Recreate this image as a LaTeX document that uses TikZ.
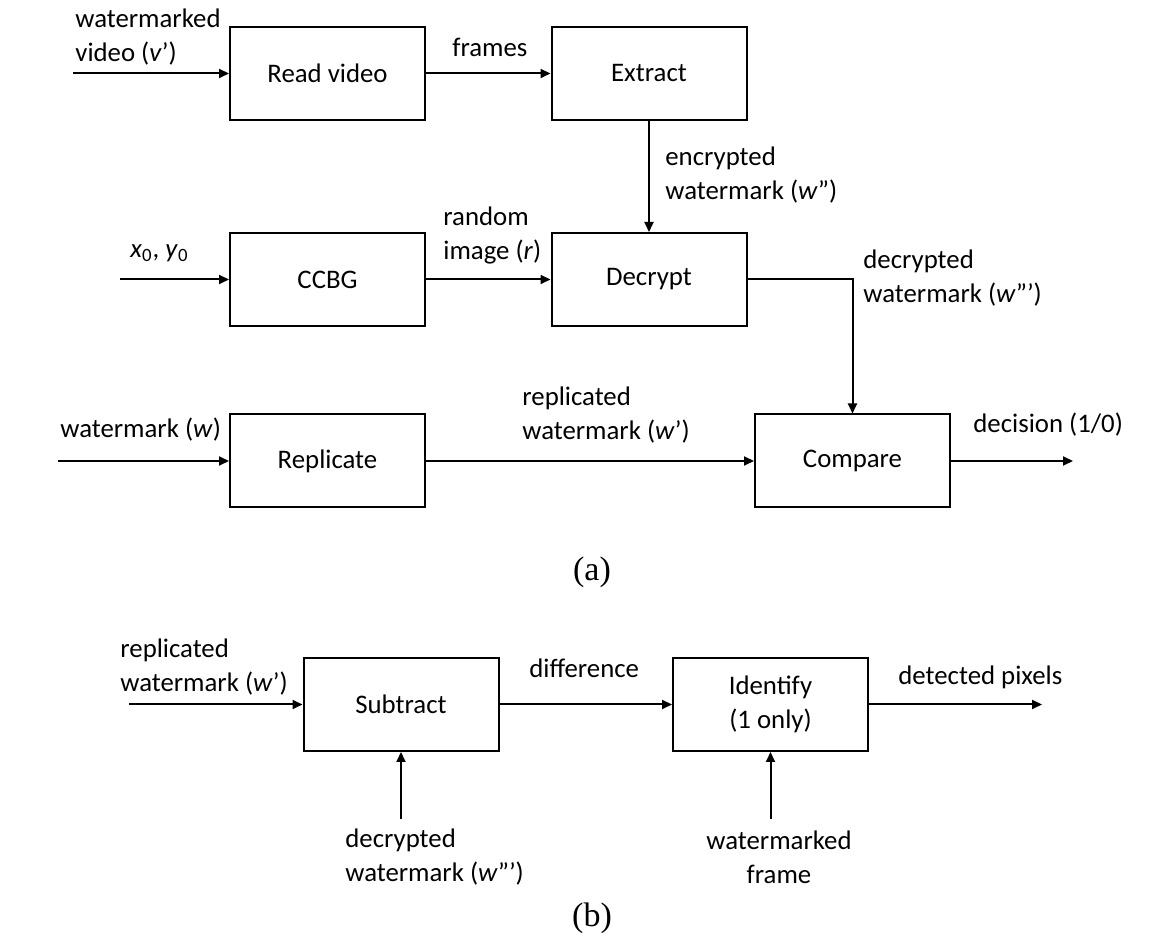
\documentclass[tikz,border=0pt]{standalone}
\usepackage{fontspec}
\setmainfont{Carlito}
\newfontfamily\capfont{Liberation Serif}
\usetikzlibrary{arrows.meta}

\begin{document}
\begin{tikzpicture}[x=0.5pt,y=-0.5pt,
    block/.style={draw, line width=1pt, minimum width=97.5pt, minimum height=46.5pt,
                  inner sep=0pt, align=center, font=\fontsize{13.4}{17}\selectfont},
    lbl/.style={inner sep=0pt, align=left, anchor=west, font=\fontsize{13.4}{17}\selectfont},
    sig/.style={line width=1pt, -{Triangle[length=5pt,width=4.5pt]}},
    captext/.style={inner sep=0pt, font=\capfont\fontsize{17}{20}\selectfont}]

\useasboundingbox (0,0) rectangle (1164,946);

%% blocks (a)
\node[block] (read)      at (327.5,73.5) {Read video};
\node[block] (extract)   at (649,73.5)   {Extract};
\node[block] (ccbg)      at (327.5,279.5) {CCBG};
\node[block] (decrypt)   at (649,279.5)  {Decrypt};
\node[block] (replicate) at (327.5,461)  {Replicate};
\node[block] (compare)   at (852.5,461)  {Compare};

%% blocks (b)
\node[block] (subtract)  at (401,704.5)  {Subtract};
\node[block] (identify)  at (770.5,704.5) {Identify\\(1 only)};

%% free ends
\coordinate (vin)  at (73,73.5);
\coordinate (xin)  at (120,279.5);
\coordinate (win)  at (58,461);
\coordinate (dout) at (1073,461);
\coordinate (wbin) at (129,704.5);
\coordinate (pout) at (1042,704.5);
\coordinate (dwin) at (401,819);
\coordinate (fin)  at (770.5,819);

%% edges (a)
\draw[sig] (vin) -- (read);
\draw[sig] (read) -- (extract);
\draw[sig] (extract) -- (decrypt);
\draw[sig] (xin) -- (ccbg);
\draw[sig] (ccbg) -- (decrypt);
\draw[sig] (decrypt.east) -| (compare.north);
\draw[sig] (win) -- (replicate);
\draw[sig] (replicate) -- (compare);
\draw[sig] (compare) -- (dout);

%% edges (b)
\draw[sig] (wbin) -- (subtract);
\draw[sig] (subtract) -- (identify);
\draw[sig] (identify) -- (pout);
\draw[sig] (dwin) -- (subtract);
\draw[sig] (fin) -- (identify);

%% signal labels (a)
\node[lbl] (lvid)  at (75,37)   {watermarked\\video (\textit{v}’)};
\node[lbl] (lfrm)  at (452,47)  {frames};
\node[lbl] (lenc)  at (665,175) {encrypted\\watermark (\textit{w}”)};
\node[lbl] (lrnd)  at (443,236) {random\\image (\textit{r})};
\node[lbl] (lxy)   at (130,253) {\textit{x}\textsubscript{0}, \textit{y}\textsubscript{0}};
\node[lbl] (ldec)  at (863,278) {decrypted\\watermark (\textit{w}”’)};
\node[lbl] (lrep)  at (522,415) {replicated\\watermark (\textit{w}’)};
\node[lbl] (lwm)   at (60,430)  {watermark (\textit{w})};
\node[lbl] (ldcs)  at (973,425) {decision (1/0)};

%% signal labels (b)
\node[lbl] (lrepb) at (120,667) {replicated\\watermark (\textit{w}’)};
\node[lbl] (ldiff) at (529,668) {difference};
\node[lbl] (lpix)  at (898,677) {detected pixels};
\node[lbl] (ldecb) at (345,857) {decrypted\\watermark (\textit{w}”’)};
\node[lbl, align=center, anchor=center] (lfrb) at (779,857) {watermarked\\frame};

%% captions
\node[captext] (capa) at (592,572) {(a)};
\node[captext] (capb) at (592,918) {(b)};

\end{tikzpicture}
\end{document}
